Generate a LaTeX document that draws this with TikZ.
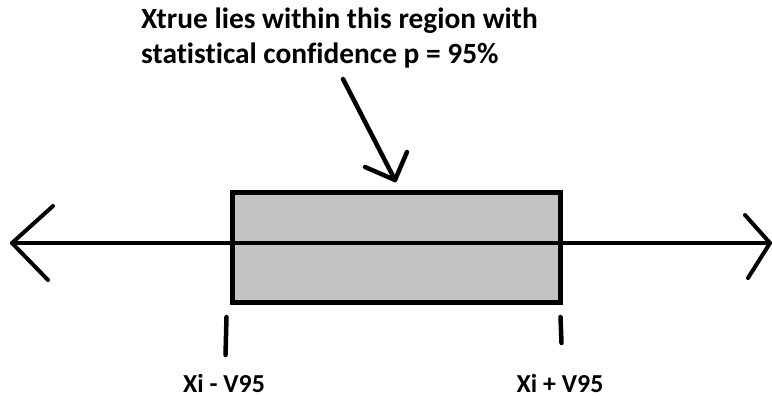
\documentclass[tikz,border=0pt]{standalone}
\usepackage{fontspec}
\setmainfont{Carlito}[Ligatures={NoCommon}]
\begin{document}
\begin{tikzpicture}[x=1bp,y=-1bp,
  lbl/.style={font=\fontsize{29.5}{35}\selectfont\bfseries, inner sep=0pt, anchor=base west},
  sublbl/.style={font=\fontsize{26}{30}\selectfont\bfseries, inner sep=0pt, anchor=base},
  ink/.style={line width=4.5bp, line cap=round, line join=round},
  axis/.style={line width=4bp, line cap=round, line join=round}]
\useasboundingbox (0,0) rectangle (772,398);
% box
\node[draw, line width=5bp, fill={rgb,255:red,195;green,195;blue,195}, minimum width=328bp, minimum height=110bp, inner sep=0pt, anchor=north west] (box) at (230,190) {};
% axis
\coordinate (L) at (12,243);
\coordinate (R) at (770,243);
\draw[axis] (L) -- (R);
\draw[axis] (53,206) -- (L) -- (48,280);
\draw[axis] (745,215) -- (R) -- (748,278);
% text
\node[lbl] (t1) at (141,28) {Xtrue lies within this region with};
\node[lbl] (t2) at (141,63) {statistical confidence p = 95\%};
% pointer arrow
\coordinate (a0) at (343,79);
\coordinate (a1) at (395,180);
\draw[ink] (a0) -- (a1);
\draw[ink] (365,167) -- (a1) -- (407,152);
% ticks
\coordinate (tl0) at (226.5,317);
\coordinate (tl1) at (225.5,355);
\coordinate (tr0) at (560.5,317);
\coordinate (tr1) at (561.5,343);
\draw[ink] (tl0) -- (tl1);
\draw[ink] (tr0) -- (tr1);
\node[sublbl] (xl) at (224,392) {Xi - V95};
\node[sublbl] (xr) at (560,392) {Xi + V95};
\end{tikzpicture}
\end{document}
